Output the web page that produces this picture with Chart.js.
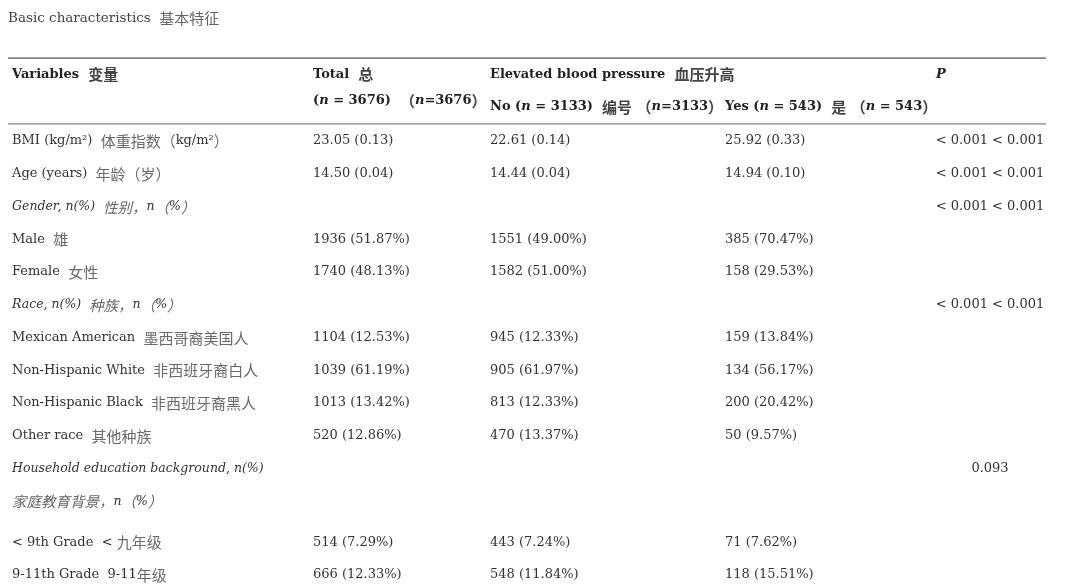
<!DOCTYPE html>
<html lang="en">
<head>
  <meta charset="UTF-8">
  <title>Basic characteristics</title>
  <script src="https://cdn.jsdelivr.net/npm/chart.js"></script>
  <style>
    html, body { margin: 0; padding: 0; background: #fff; }
    #wrap { width: 1080px; height: 586px; }
  </style>
</head>
<body>
  <div id="wrap"><canvas id="tableChart"></canvas></div>

  <script>
    // table contents
    var titleText = 'Basic characteristics  基本特征';
    var headerTop = ['Variables  变量', 'Total  总', 'Elevated blood pressure  血压升高', '', '*P*'];
    var headerSub = ['', '(*n* = 3676)  （*n*=3676）', 'No (*n* = 3133)  编号 （*n*=3133）', 'Yes (*n* = 543)  是 （*n* = 543）', ''];

    var rowLabels = [
      'BMI (kg/m²)  体重指数（kg/m²）',
      'Age (years)  年龄（岁）',
      '*Gender, n(%)  性别，n（%）*',
      'Male  雄',
      'Female  女性',
      '*Race, n(%)  种族，n（%）*',
      'Mexican American  墨西哥裔美国人',
      'Non-Hispanic White  非西班牙裔白人',
      'Non-Hispanic Black  非西班牙裔黑人',
      'Other race  其他种族',
      '*Household education background, n(%)*',
      '*家庭教育背景，n（%）*',
      '< 9th Grade  < 九年级',
      '9-11th Grade  9-11年级'
    ];
    var totalValues = ['23.05 (0.13)', '14.50 (0.04)', '', '1936 (51.87%)', '1740 (48.13%)', '',
      '1104 (12.53%)', '1039 (61.19%)', '1013 (13.42%)', '520 (12.86%)', '', '', '514 (7.29%)', '666 (12.33%)'];
    var noValues = ['22.61 (0.14)', '14.44 (0.04)', '', '1551 (49.00%)', '1582 (51.00%)', '',
      '945 (12.33%)', '905 (61.97%)', '813 (12.33%)', '470 (13.37%)', '', '', '443 (7.24%)', '548 (11.84%)'];
    var yesValues = ['25.92 (0.33)', '14.94 (0.10)', '', '385 (70.47%)', '158 (29.53%)', '',
      '159 (13.84%)', '134 (56.17%)', '200 (20.42%)', '50 (9.57%)', '', '', '71 (7.62%)', '118 (15.51%)'];
    var pValues = ['< 0.001 < 0.001', '< 0.001 < 0.001', '< 0.001 < 0.001', '', '', '< 0.001 < 0.001',
      '', '', '', '', '0.093', '', '', ''];
    var groupRows = [2, 5, 10, 11];

    // layout (x in tenths of the table width units, y in row units)
    var colStart = [1.2, 31.3, 49.0, 72.5, 93.6];
    var pCenter = 99.0;
    var ruleFrom = 0.8, ruleTo = 104.6;
    var wrapGapAfter = 11, wrapGap = 0.25;

    function rowPos(i) {
      return i + (i > wrapGapAfter ? wrapGap : 0);
    }

    var LATIN = '"DejaVu Serif"';
    var CJK = '"Noto Sans CJK SC"';
    var cjkRe = /([\u3000-\u303f\u4e00-\u9fff\uff00-\uffef]+)/;

    function splitRuns(text) {
      var runs = [];
      var parts = text.split('*');
      parts.forEach(function(part, k) {
        var italic = k % 2 === 1;
        part.split(cjkRe).forEach(function(piece) {
          if (!piece) return;
          runs.push({ text: piece, italic: italic, cjk: cjkRe.test(piece) });
        });
      });
      return runs;
    }

    function runFont(run, st) {
      var style = (run.italic || st.italic ? 'italic ' : '') + (st.bold ? 'bold ' : '');
      return run.cjk ? style + st.cjkSize + 'px ' + CJK : style + st.size + 'px ' + LATIN;
    }

    function drawRich(ctx, text, x, y, st) {
      var runs = splitRuns(text);
      var width = 0;
      runs.forEach(function(r) {
        ctx.font = runFont(r, st);
        r.w = ctx.measureText(r.text).width;
        width += r.w;
      });
      var cx = st.align === 'center' ? x - width / 2 : x;
      ctx.textBaseline = 'middle';
      ctx.textAlign = 'left';
      runs.forEach(function(r) {
        ctx.font = runFont(r, st);
        ctx.fillStyle = r.cjk ? st.cjkColor : st.color;
        ctx.fillText(r.text, cx, y + (r.cjk ? 0.5 : 0));
        cx += r.w;
      });
    }

    var bodyStyle = { size: 13, cjkSize: 15, color: '#333', cjkColor: '#6a6a6a' };
    var groupStyle = { size: 12.5, cjkSize: 14.5, color: '#333', cjkColor: '#666', italic: true };
    var headStyle = { size: 13, cjkSize: 15, color: '#222', cjkColor: '#444', bold: true };

    var columns = [rowLabels, totalValues, noValues, yesValues, pValues];
    var datasets = columns.map(function(col, c) {
      return {
        label: ['Variables', 'Total', 'No', 'Yes', 'P'][c],
        data: col.map(function(v, i) {
          return { x: c === 4 ? pCenter : colStart[c], y: rowPos(i) };
        }),
        pointRadius: 0,
        pointHoverRadius: 0
      };
    });

    var tablePlugin = {
      id: 'tableText',
      afterDatasetsDraw: function(chart) {
        var ctx = chart.ctx;
        var xs = chart.scales.x, ys = chart.scales.y;
        ctx.save();

        // title
        drawRich(ctx, titleText, xs.getPixelForValue(0.8), ys.getPixelForValue(-3.75),
          { size: 13.5, cjkSize: 15, color: '#444', cjkColor: '#666' });

        // rules
        ctx.strokeStyle = '#848484';
        [[-2.53, 1.6], [-0.52, 1.3]].forEach(function(r) {
          ctx.lineWidth = r[1];
          ctx.beginPath();
          ctx.moveTo(xs.getPixelForValue(ruleFrom), ys.getPixelForValue(r[0]));
          ctx.lineTo(xs.getPixelForValue(ruleTo), ys.getPixelForValue(r[0]));
          ctx.stroke();
        });

        // header
        headerTop.forEach(function(t, c) {
          if (t) drawRich(ctx, t, xs.getPixelForValue(colStart[c]), ys.getPixelForValue(-2.04), headStyle);
        });
        headerSub.forEach(function(t, c) {
          if (!t) return;
          var yy = c === 1 ? -1.22 : -1.04;
          drawRich(ctx, t, xs.getPixelForValue(colStart[c]), ys.getPixelForValue(yy), headStyle);
        });

        // body cells at the dataset points
        chart.data.datasets.forEach(function(ds, c) {
          var meta = chart.getDatasetMeta(c);
          meta.data.forEach(function(pt, i) {
            var t = columns[c][i];
            if (!t) return;
            var st = (c === 0 && groupRows.indexOf(i) >= 0) ? groupStyle : bodyStyle;
            if (c === 4) st = Object.assign({}, bodyStyle, { align: 'center' });
            drawRich(ctx, t, pt.x, pt.y, st);
          });
        });
        ctx.restore();
      }
    };

    new Chart(document.getElementById('tableChart'), {
      type: 'scatter',
      data: { datasets: datasets },
      options: {
        responsive: true,
        maintainAspectRatio: false,
        animation: false,
        layout: { padding: 0 },
        plugins: { legend: { display: false }, tooltip: { enabled: false } },
        scales: {
          x: { type: 'linear', min: 0, max: 108, display: false },
          y: { type: 'linear', min: -141 / 32.75, max: (586 - 141) / 32.75, reverse: true, display: false }
        }
      },
      plugins: [tablePlugin]
    });
  </script>
</body>
</html>
